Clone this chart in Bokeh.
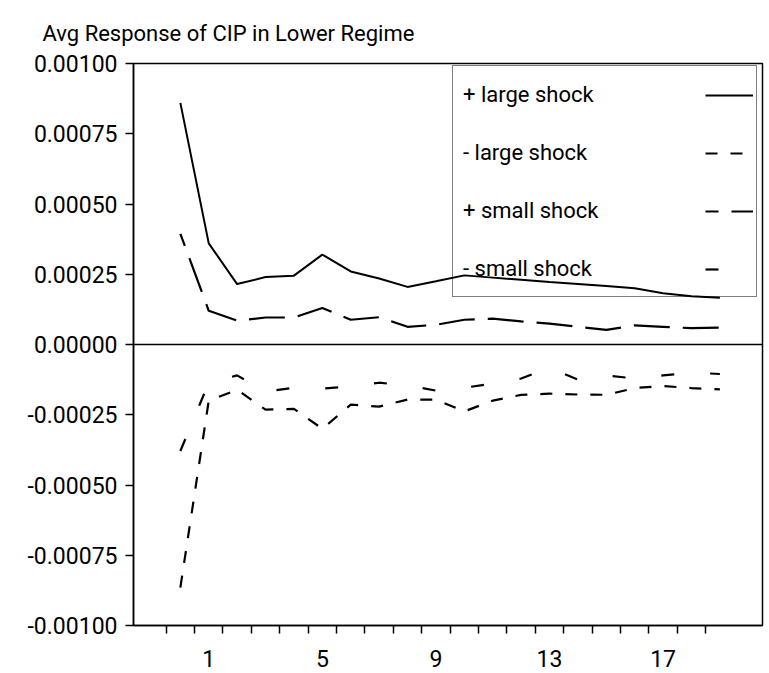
from bokeh.plotting import figure
from bokeh.models import Range1d, FixedTicker, NumeralTickFormatter, Span, Legend, LegendItem
from bokeh.embed import file_html
from bokeh.resources import INLINE

# ---- data ----
horizon = list(range(20))
pos_large = [0.00086, 0.00036, 0.000215, 0.00024, 0.000245, 0.00032, 0.00026, 0.000235,
             0.000205, 0.000225, 0.000246, 0.000238, 0.00023, 0.000222, 0.000215, 0.000208,
             0.0002, 0.000182, 0.000172, 0.000166]
neg_large = [-0.000865, -0.0002, -0.000161, -0.000232, -0.000229, -0.0003, -0.000214, -0.000221,
             -0.000196, -0.000196, -0.000238, -0.0002, -0.000179, -0.000175, -0.000178, -0.000179,
             -0.000155, -0.000148, -0.000155, -0.00016]
pos_small = [0.000394, 0.00012, 0.000085, 0.000096, 0.000096, 0.00013, 0.000088, 0.000097,
             0.000063, 0.00007, 0.000088, 0.000092, 0.000082, 0.000074, 0.000063, 0.000052,
             0.000068, 0.000063, 0.000058, 0.00006]
neg_small = [-0.000379, -0.000136, -0.00011, -0.000168, -0.000154, -0.000157, -0.000149, -0.000136,
             -0.000146, -0.000164, -0.000154, -0.000139, -0.000121, -0.000082, -0.000125, -0.00011,
             -0.000121, -0.00011, -0.0001, -0.000105]
series_labels = ["+ large shock", "- large shock", "+ small shock", "- small shock"]
x_tick_labels = [1, 5, 9, 13, 17]
x_minor_ticks = [-0.5, 0.5, 1.5, 2.5, 3.5, 4.5, 5.5, 6.5, 7.5, 8.5, 9.5, 10.5, 11.5, 12.5,
                 13.5, 14.5, 15.5, 16.5, 17.5, 18.5]
y_ticks = [-0.001, -0.00075, -0.0005, -0.00025, 0.0, 0.00025, 0.0005, 0.00075, 0.001]
title_text = "Avg Response of CIP in Lower Regime"

FONT = "Roboto"

p = figure(width=768, height=672, output_backend="svg", toolbar_location=None,
           x_range=Range1d(-1.65, 20.5), y_range=Range1d(-0.001, 0.001),
           min_border_left=133, min_border_right=6, min_border_top=62, min_border_bottom=47)
p.grid.visible = False
p.outline_line_color = "black"
p.outline_line_width = 1.5
p.background_fill_color = "white"

p.title.text = title_text
p.title.text_font = FONT
p.title.text_font_size = "22px"
p.title.text_font_style = "normal"
p.title.text_color = "black"
p.title.align = "left"
p.title.offset = -91
p.title.standoff = 36

# x axis
p.xaxis.ticker = FixedTicker(ticks=x_tick_labels, minor_ticks=x_minor_ticks)
p.xaxis.major_tick_out = 0
p.xaxis.major_tick_in = 0
p.xaxis.minor_tick_out = 8
p.xaxis.minor_tick_in = 0
p.xaxis.minor_tick_line_color = "black"
p.xaxis.minor_tick_line_width = 1.5
p.xaxis.axis_line_width = 1.5
p.xaxis.major_label_standoff = 16
p.xaxis.major_label_text_font = FONT
p.xaxis.major_label_text_font_size = "23px"
p.xaxis.major_label_text_color = "black"

# y axis
p.yaxis.ticker = FixedTicker(ticks=y_ticks)
p.yaxis.formatter = NumeralTickFormatter(format="0.00000")
p.yaxis.major_tick_out = 8
p.yaxis.major_tick_in = 0
p.yaxis.minor_tick_out = 0
p.yaxis.minor_tick_in = 0
p.yaxis.major_tick_line_width = 1.5
p.yaxis.axis_line_width = 1.5
p.yaxis.major_label_standoff = 8
p.yaxis.major_label_text_font = FONT
p.yaxis.major_label_text_font_size = "23px"
p.yaxis.major_label_text_color = "black"

p.add_layout(Span(location=0, dimension="width", line_color="black", line_width=1.5))

r1 = p.line(horizon, pos_large, line_color="black", line_width=2)
r2 = p.line(horizon, neg_large, line_color="black", line_width=2.2, line_dash="12 13")
r3 = p.line(horizon, pos_small, line_color="black", line_width=2.2, line_dash="36 13",
            line_dash_offset=23)
r4 = p.line(horizon, neg_small, line_color="black", line_width=2.2, line_dash="13 36")
rends = [r1, r2, r3, r4]

common = dict(padding=10, spacing=22, glyph_height=36, margin=0,
              label_text_font=FONT, label_text_font_size="22px", label_text_color="black",
              background_fill_alpha=0, label_height=36)

leg_text = Legend(items=[LegendItem(label=l, renderers=[r]) for l, r in zip(series_labels, rends)],
                  location=(319, 328), glyph_width=0, label_standoff=0, label_width=283,
                  border_line_color="black", border_line_width=1.5, **common)
leg_glyph = Legend(items=[LegendItem(label=" ", renderers=[r]) for r in rends],
                   location=(562, 328), glyph_width=48, label_standoff=0, label_width=0,
                   border_line_alpha=0, **common)
p.add_layout(leg_text)
p.add_layout(leg_glyph)

open("out.html", "w").write(file_html(p, INLINE))
